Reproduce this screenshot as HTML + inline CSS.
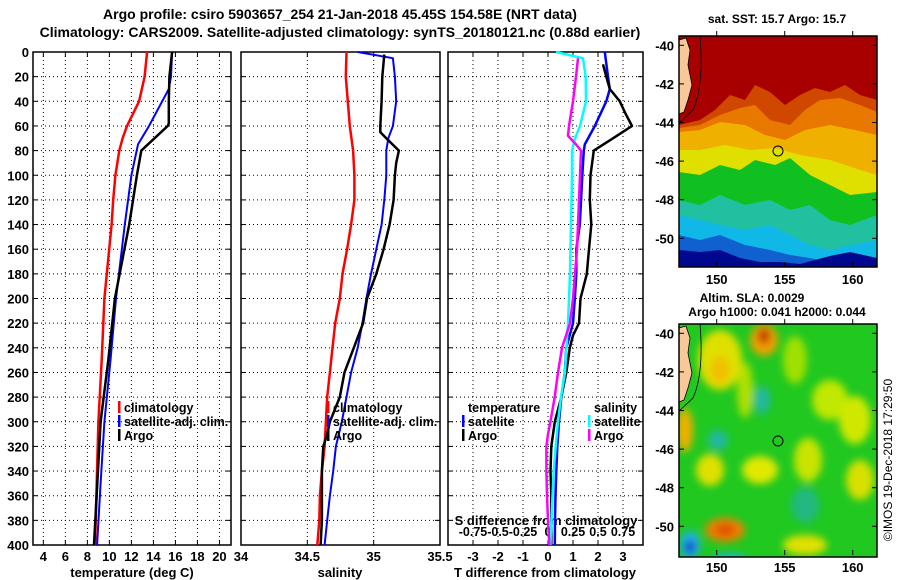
<!DOCTYPE html>
<html><head><meta charset="utf-8">
<style>
html,body{margin:0;padding:0;background:#fff;}
svg{display:block;font-family:"Liberation Sans",Arial,sans-serif;font-weight:bold;}
</style></head>
<body>
<svg id="fig" width="900" height="580" viewBox="0 0 900 580">
<defs>
<filter id="blur4"><feGaussianBlur stdDeviation="4"/></filter>
<clipPath id="clipM1"><rect x="679" y="36" width="198" height="231"/></clipPath>
<clipPath id="clipM2"><rect x="679" y="324" width="198" height="233"/></clipPath>
</defs>
<text x="340" y="19" text-anchor="middle" font-size="14">Argo profile: csiro 5903657_254 21-Jan-2018 45.45S 154.58E (NRT data)</text>
<text x="340" y="37" text-anchor="middle" font-size="14">Climatology: CARS2009. Satellite-adjusted climatology: synTS_20180121.nc (0.88d earlier)</text>

<g clip-path="url(#clipM1)">
  <rect x="679" y="36" width="198" height="231" fill="#a80000"/>
  <path d="M679,125 L700,120 L715,110 L730,95 L745,100 L755,85 L770,92 L785,105 L800,95 L815,88 L830,92 L845,85 L860,95 L877,100 L877,267 L679,267Z" fill="#d04800"/>
  <path d="M679,128 L700,125 L720,115 L740,108 L755,105 L770,120 L790,125 L805,110 L820,100 L840,98 L860,105 L877,112 L877,267 L679,267Z" fill="#e87800"/>
  <path d="M679,132 L700,130 L720,122 L745,125 L765,135 L785,140 L805,130 L830,125 L855,130 L877,135 L877,267 L679,267Z" fill="#f0b000"/>
  <path d="M679,150 L700,150 L725,145 L750,150 L775,148 L800,155 L830,160 L860,170 L877,175 L877,267 L679,267Z" fill="#e0e000"/>
  <path d="M679,172 L700,175 L720,165 L740,170 L755,160 L775,165 L790,158 L810,175 L830,185 L850,195 L877,192 L877,267 L679,267Z" fill="#10c020"/>
  <path d="M679,200 L700,205 L720,195 L745,205 L770,200 L790,210 L810,205 L830,220 L850,225 L877,215 L877,267 L679,267Z" fill="#20c0a0"/>
  <path d="M679,215 L700,220 L720,225 L745,230 L770,225 L790,235 L810,245 L830,250 L850,245 L877,240 L877,267 L679,267Z" fill="#10b8e8"/>
  <path d="M679,235 L700,240 L720,235 L745,245 L770,250 L790,255 L810,258 L830,262 L850,260 L877,262 L877,267 L679,267Z" fill="#1060d0"/>
  <path d="M679,250 L700,252 L720,250 L740,258 L760,262 L780,262 L800,264 L830,256 L850,252 L877,258 L877,267 L679,267Z" fill="#000890"/>
  <path d="M679,40 L686,38 L690,50 L688,65 L692,85 L688,100 L684,112 L679,114Z" fill="#f8c898" stroke="#000" stroke-width="0.8"/>
  <path d="M700,36 C702,60 702,90 693,110 L679,123" fill="none" stroke="#000" stroke-width="0.8"/>
  <circle cx="778" cy="151" r="5" fill="none" stroke="#000" stroke-width="1"/>
</g>
<rect x="679" y="36" width="198" height="231" fill="none" stroke="#000" stroke-width="1.5"/>

<g clip-path="url(#clipM2)">
  <rect x="679" y="324" width="198" height="233" fill="#20c820"/>
  <g filter="url(#blur4)">
    <ellipse cx="720" cy="360" rx="22" ry="30" fill="#e0e000"/>
    <ellipse cx="764" cy="340" rx="14" ry="16" fill="#f0a000"/>
    <ellipse cx="764" cy="336" rx="6" ry="8" fill="#c03000"/>
    <ellipse cx="720" cy="370" rx="10" ry="14" fill="#f0c000"/>
    <ellipse cx="685" cy="430" rx="8" ry="22" fill="#f0b000"/>
    <ellipse cx="745" cy="390" rx="8" ry="28" fill="#b0e000"/>
    <ellipse cx="795" cy="360" rx="12" ry="24" fill="#a0e000"/>
    <ellipse cx="830" cy="400" rx="18" ry="20" fill="#c0e800"/>
    <ellipse cx="855" cy="420" rx="16" ry="24" fill="#d0e800"/>
    <ellipse cx="760" cy="470" rx="18" ry="14" fill="#e0e800"/>
    <ellipse cx="710" cy="470" rx="14" ry="16" fill="#e0e000"/>
    <ellipse cx="808" cy="460" rx="14" ry="22" fill="#c8e400"/>
    <ellipse cx="860" cy="480" rx="14" ry="20" fill="#d8e000"/>
    <ellipse cx="762" cy="400" rx="8" ry="14" fill="#20b8a0"/>
    <ellipse cx="718" cy="440" rx="10" ry="10" fill="#20b8a0"/>
    <ellipse cx="805" cy="505" rx="14" ry="18" fill="#20b880"/>
    <ellipse cx="725" cy="530" rx="20" ry="12" fill="#f08000"/>
    <ellipse cx="725" cy="530" rx="10" ry="6" fill="#e05000"/>
    <ellipse cx="690" cy="545" rx="10" ry="14" fill="#20b0f0"/>
    <ellipse cx="690" cy="547" rx="5" ry="7" fill="#1040c0"/>
    <ellipse cx="730" cy="562" rx="18" ry="8" fill="#20b0f0"/>
    <ellipse cx="805" cy="545" rx="22" ry="10" fill="#e0e000"/>
  </g>
  <path d="M679,328 L686,326 L690,338 L688,353 L692,373 L688,388 L684,400 L679,402Z" fill="#f8c898" stroke="#000" stroke-width="0.8"/>
  <path d="M700,324 C702,348 702,378 693,398 L679,411" fill="none" stroke="#000" stroke-width="0.8"/>
  <circle cx="778" cy="441" r="5" fill="none" stroke="#000" stroke-width="1"/>
</g>
<rect x="679" y="324" width="198" height="233" fill="none" stroke="#000" stroke-width="1.5"/>

<text x="777" y="23" text-anchor="middle" font-size="12">sat. SST: 15.7 Argo: 15.7</text>
<text x="752" y="302" text-anchor="middle" font-size="12">Altim. SLA: 0.0029</text>
<text x="777" y="316" text-anchor="middle" font-size="12">Argo h1000: 0.041 h2000: 0.044</text>
<text transform="translate(892,460) rotate(-90)" text-anchor="middle" font-size="12" font-weight="normal">©IMOS 19-Dec-2018 17:29:50</text>
<g id="mapaxes"></g>
<g id="panels"></g>
</svg>
<script>
// ---- data ----
const depthTicks = [0,20,40,60,80,100,120,140,160,180,200,220,240,260,280,300,320,340,360,380,400];
const tTicks = [4,6,8,10,12,14,16,18,20];
const sTicks = [34,34.5,35,35.5];
const sTickLabels = ["34","34.5","35","35.5"];
const dTicks = [-3,-2,-1,0,1,2,3];
const sdTickLabels = ["-0.75","-0.5","-0.25","0","0.25","0.5","0.75"];
const sdTicks = [-0.75,-0.5,-0.25,0,0.25,0.5,0.75];

const climTDepth = [0,20,40,60,70,80,100,120,140,200,250,300,350,400];
const climT      = [13.43,13.2,12.7,11.6,11.2,10.9,10.55,10.35,10.2,9.55,9.3,9.0,8.85,8.7];
const satTDepth  = [0,20,30,40,60,75,100,140,200,250,300,350,400];
const satT       = [15.7,15.6,15.4,14.8,13.6,12.6,12.0,11.4,10.6,10.1,9.55,9.2,8.88];
const argoTDepth = [0,20,40,58,60,80,100,140,200,250,300,350,400];
const argoT      = [15.7,15.45,15.4,15.4,15.3,12.9,12.5,11.8,10.5,9.9,9.2,8.9,8.6];

const climSDepth = [0,20,60,80,100,120,140,160,180,200,220,240,260,280,300,320,340,360,380,400];
const climS      = [34.795,34.79,34.82,34.845,34.855,34.855,34.83,34.8,34.765,34.745,34.71,34.69,34.67,34.65,34.64,34.63,34.61,34.595,34.59,34.575];
const satSDepth  = [0,5,20,40,60,70,80,100,120,140,160,180,200,220,240,260,280,300,320,340,360,380,400];
const satS       = [34.88,35.145,35.16,35.17,35.145,35.11,35.095,35.095,35.08,35.06,35.02,34.98,34.945,34.915,34.88,34.83,34.795,34.76,34.715,34.695,34.67,34.65,34.63];
const argoSDepth = [2,20,40,60,65,70,80,90,100,120,140,160,180,200,220,240,260,280,300,310,320,340,360,380,400];
const argoS      = [35.08,35.065,35.06,35.05,35.05,35.095,35.19,35.17,35.16,35.15,35.12,35.075,35.02,34.95,34.92,34.85,34.78,34.745,34.67,34.65,34.62,34.61,34.61,34.61,34.6];

const satdTDepth  = [0,20,30,40,60,75,80,100,140,160,180,200,220,240,260,280,300,320,340,360,380,400];
const satdT       = [2.27,2.4,2.47,2.33,1.87,1.47,1.43,1.37,1.27,1.13,1.13,1.07,1.0,0.73,0.67,0.53,0.44,0.37,0.33,0.3,0.28,0.27];
const argodTDepth = [10,20,30,40,50,60,70,80,100,120,140,160,180,200,220,230,240,260,280,300,320,340,360,380,400];
const argodT      = [2.2,2.33,2.47,2.87,3.1,3.36,2.6,1.83,1.7,1.67,1.73,1.64,1.55,1.3,1.24,1.0,0.87,0.73,0.53,0.27,0.13,0.1,0.13,0.13,0.13];
const satdSDepth  = [0,5,20,40,60,70,80,100,140,180,200,220,260,280,300,320,340,360,400];
const satdS       = [0.08,0.35,0.377,0.38,0.32,0.27,0.24,0.24,0.23,0.22,0.21,0.2,0.17,0.13,0.10,0.077,0.057,0.045,0.024];
const argodSDepth = [5,20,40,60,68,75,80,100,120,140,160,180,200,220,240,260,280,300,310,320,340,360,380,400];
const argodS      = [0.30,0.28,0.25,0.21,0.2,0.28,0.33,0.32,0.31,0.30,0.29,0.27,0.25,0.22,0.14,0.10,0.067,0.024,0,-0.016,-0.016,-0.01,0.0,0.013];

// ---- drawing ----
const NS = "http://www.w3.org/2000/svg";
const root = document.getElementById('panels');
function mk(tag, attrs, parent){ const e=document.createElementNS(NS,tag); for(const k in attrs) e.setAttribute(k,attrs[k]); (parent||root).appendChild(e); return e; }
const Y0=52, Y1=545;
function yScale(d){ return Y0 + d/400*(Y1-Y0); }
function makeX(x0,x1,v0,v1){ return v=> x0 + (v-v0)/(v1-v0)*(x1-x0); }

const P1 = {x0:33,x1:231, x:makeX(33,231,3.06,21.05)};
const P2 = {x0:241,x1:440, x:makeX(241,440,34,35.5)};
const P3 = {x0:448,x1:643, x:makeX(448,643,-4,3.8)};
const sdX = makeX(448,643,-1,0.95);

function frame(P, name, gridVals){
  const g = mk('g',{});
  
  
  gridVals.forEach(v=>{ const x=P.x(v); if(x>P.x0+1 && x<P.x1-1){
    const l=mk('line',{x1:x,x2:x,y1:Y0,y2:Y1,stroke:'#000','stroke-width':1,'stroke-dasharray':'1 3'},g);
     
    mk('line',{x1:x,x2:x,y1:Y1,y2:Y1-5,stroke:'#000'},g); mk('line',{x1:x,x2:x,y1:Y0,y2:Y0+5,stroke:'#000'},g);
  }});
  depthTicks.forEach(d=>{ const y=yScale(d);
    if(d>0 && d<400){ const l=mk('line',{x1:P.x0,x2:P.x1,y1:y,y2:y,stroke:'#000','stroke-width':1,'stroke-dasharray':'1 3'},g);
        }
    mk('line',{x1:P.x0,x2:P.x0+5,y1:y,y2:y,stroke:'#000'},g); mk('line',{x1:P.x1,x2:P.x1-5,y1:y,y2:y,stroke:'#000'},g);
  });
  const r = mk('rect',{x:P.x0,y:Y0,width:P.x1-P.x0,height:Y1-Y0,fill:'none',stroke:'#000','stroke-width':1.5},g);
   
  return g;
}
function line(P, xf, vals, depths, color, w, name){
  const pts = vals.map((v,i)=> xf(v).toFixed(1)+','+yScale(depths[i]).toFixed(1)).join(' ');
  const p = mk('polyline',{points:pts,fill:'none',stroke:color,'stroke-width':w,'stroke-linejoin':'round'});
  
  
}
function txt(x,y,s,opts){ const t=mk('text',Object.assign({x:x,y:y,'font-size':13},opts||{})); t.textContent=s; return t; }

frame(P1,'temperature-panel',tTicks);
frame(P2,'salinity-panel',[34.5,35]);
frame(P3,'difference-panel',dTicks);

depthTicks.forEach(d=>{ const t=txt(29,yScale(d)+5,String(d),{'text-anchor':'end'});
    });
tTicks.forEach(v=>{ const t=txt(P1.x(v),561,String(v),{'text-anchor':'middle'});
    });
sTicks.forEach((v,i)=>{ const t=txt(P2.x(v),561,sTickLabels[i],{'text-anchor':'middle'});
    });
dTicks.forEach(v=>{ const t=txt(P3.x(v),561,String(v),{'text-anchor':'middle'});
    });
sdTicks.forEach((v,i)=>{ const t=txt(sdX(v),536,sdTickLabels[i],{'text-anchor':'middle','font-size':12.5});
    });
let t;
t=txt(132,577,'temperature (deg C)',{'text-anchor':'middle'});  
t=txt(340,577,'salinity',{'text-anchor':'middle'});  
t=txt(545,577,'T difference from climatology',{'text-anchor':'middle'});  
t=txt(546,525,'S difference from climatology',{'text-anchor':'middle'});  

line(P1,P1.x,climT,climTDepth,'#ff0000',2.5,'climatology-temperature-line');
line(P1,P1.x,satT,satTDepth,'#0000ff',2,'satellite-temperature-line');
line(P1,P1.x,argoT,argoTDepth,'#000000',2.5,'argo-temperature-line');
line(P2,P2.x,climS,climSDepth,'#ff0000',2.5,'climatology-salinity-line');
line(P2,P2.x,satS,satSDepth,'#0000ff',2,'satellite-salinity-line');
line(P2,P2.x,argoS,argoSDepth,'#000000',2.5,'argo-salinity-line');
line(P3,P3.x,satdT,satdTDepth,'#0000ff',2.5,'satellite-tdiff-line');
line(P3,P3.x,argodT,argodTDepth,'#000000',2.5,'argo-tdiff-line');
line(P3,sdX,satdS,satdSDepth,'#00ffff',2.5,'satellite-sdiff-line');
line(P3,sdX,argodS,argodSDepth,'#ff00ff',2.5,'argo-sdiff-line');

function legend(x,y,color,label,name){
  const g=mk('g',{});  
  mk('rect',{x:x,y:y-11,width:2.5,height:12,fill:color},g);
  const tt=mk('text',{x:x+6,y:y,'font-size':12.5},g); tt.textContent=label;
}
legend(118,412,'#ff0000','climatology','legend-climatology');
legend(118,426,'#0000ff','satellite-adj. clim.','legend-satellite-adj');
legend(118,440,'#000000','Argo','legend-argo');
legend(327,412,'#ff0000','climatology','legend-climatology-salinity');
legend(327,426,'#0000ff','satellite-adj. clim.','legend-satellite-adj-salinity');
legend(327,440,'#000000','Argo','legend-argo-salinity');
t=txt(468,412,'temperature',{'font-size':12.5});  
legend(462,426,'#0000ff','satellite','legend-temperature-satellite');
legend(462,440,'#000000','Argo','legend-temperature-argo');
t=txt(594,412,'salinity',{'font-size':12.5});  
legend(588,426,'#00ffff','satellite','legend-salinity-satellite');
legend(588,440,'#ff00ff','Argo','legend-salinity-argo');

const mg=document.getElementById('mapaxes');
const latTicks=[-40,-42,-44,-46,-48,-50];
const lonTicks=[150,155,160];
function latY1(l){ return 45.3 + (-40-l)*19.3; }
function lonX(l){ return 716.7 + (l-150)*13.6; }
[[0,'sst'],[288,'sla']].forEach(([off,nm])=>{
  latTicks.forEach(l=>{ const y=latY1(l)+off;
    mk('line',{x1:679,x2:684,y1:y,y2:y,stroke:'#000'},mg); mk('line',{x1:877,x2:872,y1:y,y2:y,stroke:'#000'},mg);
    const tt=mk('text',{x:674,y:y+5,'text-anchor':'end','font-size':13},mg); tt.textContent=String(l);
     
  });
  lonTicks.forEach(l=>{ const x=lonX(l);
    mk('line',{x1:x,x2:x,y1:267+off,y2:262+off,stroke:'#000'},mg); mk('line',{x1:x,x2:x,y1:36+off,y2:31+off,stroke:'#000'},mg);
    const tt=mk('text',{x:x,y:284+off,'text-anchor':'middle','font-size':13},mg); tt.textContent=String(l);
     
  });
});
</script>
</body></html>
